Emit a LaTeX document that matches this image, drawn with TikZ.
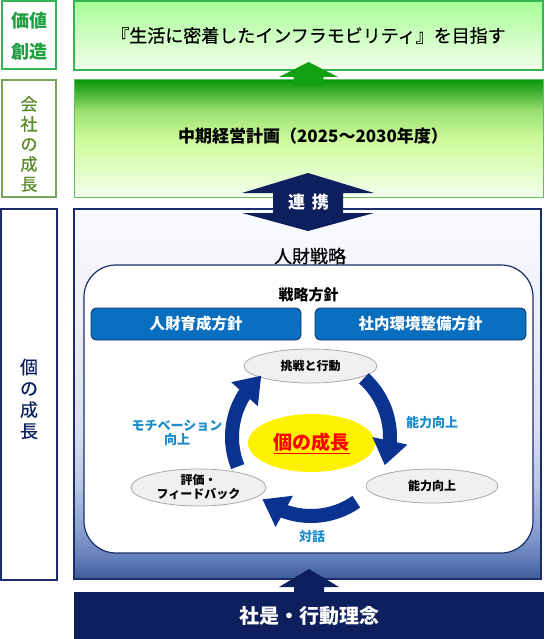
\documentclass[tikz,border=0pt]{standalone}
\usepackage{fontspec}
\setmainfont{Noto Sans CJK JP}
\newfontfamily\medfont{Noto Sans CJK JP}[FakeBold=0.6]
\usetikzlibrary{arrows.meta,bending,shapes.geometric,calc}
\definecolor{gA}{HTML}{33B455}
\definecolor{gText}{HTML}{1FA040}
\definecolor{oText}{HTML}{5A8A2A}
\definecolor{oBorder}{HTML}{7AA35A}
\definecolor{navy}{HTML}{0E1F5E}
\definecolor{navyB}{HTML}{1B2E6B}
\definecolor{blueBox}{HTML}{0A6EBE}
\definecolor{cyc}{HTML}{0A3390}
\definecolor{lbl}{HTML}{1A8CCB}
\definecolor{ellF}{HTML}{F0F0F0}
\definecolor{ellB}{HTML}{A8A8A8}
\definecolor{arrG}{HTML}{12A012}
\definecolor{b2line}{HTML}{60C060}
\definecolor{redT}{HTML}{FF0000}
\definecolor{s1}{HTML}{F4FFEE}
\definecolor{s2}{HTML}{E0FFC4}
\definecolor{s3}{HTML}{CCFA9A}
\definecolor{s4}{HTML}{98E070}
\definecolor{s5}{HTML}{40B030}
\definecolor{s6}{HTML}{0A9A0A}
\definecolor{t1}{HTML}{F4FFEC}
\definecolor{t2}{HTML}{A6FF95}
\definecolor{u0}{HTML}{3D5A9A}
\definecolor{u1}{HTML}{6580BA}
\definecolor{u2}{HTML}{8CA2D2}
\definecolor{u3}{HTML}{BAC7E6}
\definecolor{u4}{HTML}{D9DFF1}
\definecolor{u5}{HTML}{EDF0F8}
\definecolor{u6}{HTML}{FAFBFE}
\pgfdeclareverticalshading{gboxone}{100bp}{color(0bp)=(t1); color(25bp)=(t1); color(75bp)=(t2); color(100bp)=(t2)}
\pgfdeclareverticalshading{gboxtwo}{100bp}{color(0bp)=(s1); color(25bp)=(s1); color(37bp)=(s2); color(50bp)=(s3); color(62bp)=(s4); color(70bp)=(s5); color(75bp)=(s6); color(100bp)=(s6)}
\pgfdeclareverticalshading{nbox}{100bp}{color(0bp)=(u0); color(25bp)=(u0); color(28bp)=(u1); color(32bp)=(u2); color(38bp)=(u3); color(45bp)=(u4); color(60bp)=(u5); color(75bp)=(u6); color(100bp)=(u6)}
\begin{document}
\begin{tikzpicture}[x=1pt,y=-1pt,
  leftbox/.style={draw, fill=white, inner sep=0pt, minimum width=54pt},
  mainbox/.style={inner sep=0pt, minimum width=469pt},
  bluebox/.style={draw=navyB, line width=0.8pt, fill=blueBox, rounded corners=5pt, minimum width=210pt, minimum height=32pt, inner sep=0pt, text=white, font=\fontsize{15.5}{18}\selectfont\bfseries},
  cell/.style={ellipse, draw=ellB, line width=0.8pt, fill=ellF, inner sep=0pt, font=\fontsize{12}{14}\selectfont\bfseries, align=center},
  lab/.style={text=lbl, font=\fontsize{13}{14}\selectfont\bfseries, align=center, inner sep=0pt},
  cycarrow/.style={draw=cyc, line width=14pt, -{Triangle[width=34pt,length=25pt]}},
]
\useasboundingbox (0,0) rectangle (544,639);
% left column
\node[leftbox, draw=gA, line width=1.5pt, minimum height=68pt] (l1) at (29,35) {};
\node[text=gText, font=\fontsize{18}{31}\selectfont\bfseries, align=center, inner sep=0pt] (l1t) at (29,36.5) {価値\\創造};
\node[leftbox, draw=oBorder, line width=1.2pt, minimum height=117pt] (l2) at (29,138.5) {};
\node[text=oText, font=\fontsize{17}{20}\selectfont\medfont, align=center, inner sep=0pt] (l2t) at (29,144) {会\\社\\の\\成\\長};
\node[leftbox, draw=navyB, line width=1.2pt, minimum width=56pt, minimum height=371pt] (l3) at (29,394.5) {};
\node[text=navy, font=\fontsize{18}{21.3}\selectfont\medfont, align=center, inner sep=0pt] (l3t) at (29,399) {個\\の\\成\\長};
% main boxes
\node[mainbox, shading=gboxone, draw=gA, line width=1.5pt, minimum height=69pt] (m1) at (308.5,35.5) {};
\node[font=\fontsize{18}{20}\selectfont\medfont] (m1t) at (m1) {『生活に密着したインフラモビリティ』を目指す};
\node[mainbox, shading=gboxtwo, draw=b2line, line width=1pt, minimum height=117pt] (m2) at (308.5,138.5) {};
\node[font=\fontsize{17}{20}\selectfont\bfseries] (m2t) at (313,136) {中期経営計画（2025～2030年度）};
\node[mainbox, shading=nbox, draw=navyB, line width=1.2pt, minimum width=467pt, minimum height=370pt] (m3) at (307.5,394) {};
\node[inner sep=0pt, fill=navy, minimum width=470pt, minimum height=47pt] (bot) at (309,615.5) {};
\node[text=white, font=\fontsize{20}{22}\selectfont\bfseries] (bott) at (309,616) {社是・行動理念};
% green arrow
\coordinate (ga) at (308.5,62);
\fill[arrG] (ga) -- ++(29.5,15) -- ++(-14.5,0) -- ++(0,9) -- ++(-30,0) -- ++(0,-9) -- ++(-14.5,0) -- cycle;
% double arrow
\coordinate (da) at (308,173);
\fill[navy] (da) -- ++(66,20) -- ++(-31,0) -- ++(0,20) -- ++(31,0) -- ++(-66,18) -- ++(-66,-18) -- ++(31,0) -- ++(0,-20) -- ++(-31,0) -- cycle;
\node[text=white, font=\fontsize{17}{20}\selectfont\bfseries] (dat) at (308.5,202) {連\hspace{7pt}携};
% bottom arrow
\coordinate (ba) at (309,569);
\fill[navy] (ba) -- ++(30,18) -- ++(-15,0) -- ++(0,6) -- ++(-30,0) -- ++(0,-6) -- ++(-15,0) -- cycle;
% inner rounded box
\node[draw=navyB, line width=1.2pt, fill=white, rounded corners=32pt, minimum width=449pt, minimum height=288pt, inner sep=0pt] (inner) at (308.5,409) {};
\node[font=\fontsize{18}{20}\selectfont\medfont, inner sep=0pt] (hr) at (310,256) {人財戦略};
\node[font=\fontsize{15}{18}\selectfont\bfseries, inner sep=0pt] (pol) at (308.5,295) {戦略方針};
\node[bluebox] (pA) at (196,324) {人財育成方針};
\node[bluebox, minimum width=211pt] (pB) at (420.5,324) {社内環境整備方針};
% cycle
\node[cell, minimum width=133pt, minimum height=34pt] (c1) at (310.5,366) {挑戦と行動};
\node[cell, minimum width=132pt, minimum height=34pt] (c2) at (432,486) {能力向上};
\node[cell, minimum width=135pt, minimum height=37pt] (c3) at (198.5,487.5) {評価・\\フィードバック};
\node[ellipse, fill=yellow, minimum width=127pt, minimum height=58pt, inner sep=0pt, text=redT, font=\fontsize{19}{22}\selectfont\bfseries] (core) at (311.5,443) {\underline{個の成長}};
\coordinate (C) at (311,437);
\draw[cycarrow] ($(C)+(-48:79)$) arc[start angle=-48, end angle=21, radius=79];
\draw[cycarrow] ($(C)+(55:79)$) arc[start angle=55, end angle=128, radius=79];
\draw[cycarrow] ($(C)+(158:79)$) arc[start angle=158, end angle=231, radius=79];
\node[lab] (lb1) at (432,423) {能力向上};
\node[lab] (lb2) at (177,433) {モチベーション\\向上};
\node[lab] (lb3) at (312,537) {対話};
\end{tikzpicture}
\end{document}
